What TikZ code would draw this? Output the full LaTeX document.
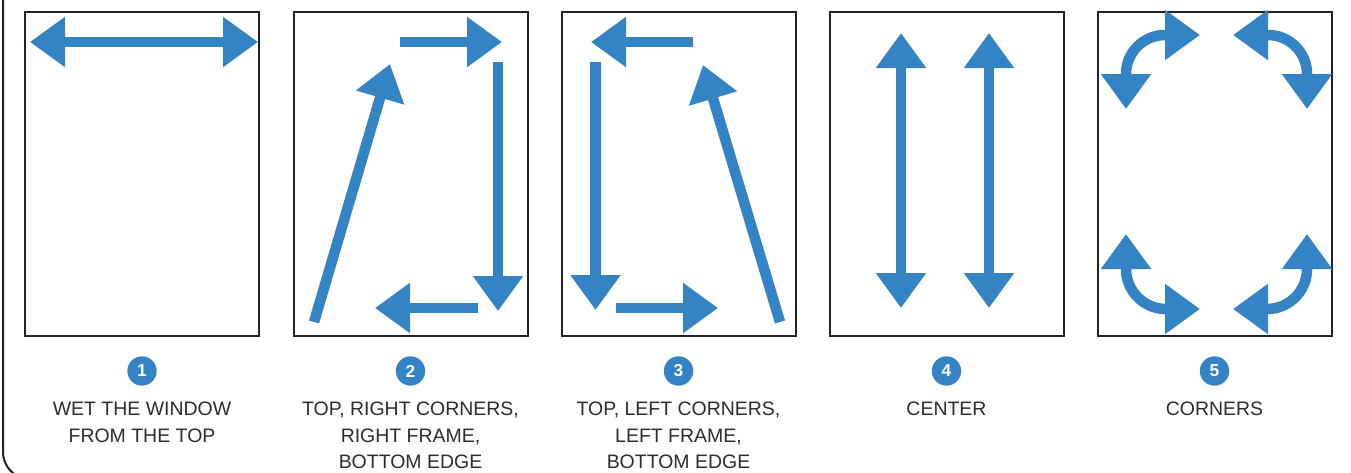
\documentclass[tikz,border=0pt]{standalone}
\usepackage{fontspec}
\setmainfont{Liberation Sans}
\usetikzlibrary{arrows.meta}
\definecolor{ablue}{RGB}{52,131,197}
\definecolor{frm}{RGB}{34,34,34}
\definecolor{txt}{RGB}{45,45,45}
\begin{document}
\begin{tikzpicture}[x=0.75pt,y=0.75pt,
  >={Triangle[length=26.25pt,width=36pt]},
  arr/.style={draw=ablue,line width=7.9pt},
  panel/.style={draw=frm,line width=1.5pt,minimum width=175.5pt,minimum height=243pt,inner sep=0pt},
  num/.style={circle,fill=ablue,text=white,minimum size=22pt,inner sep=0pt,font=\fontsize{13}{13}\selectfont\bfseries},
  lbl/.style={anchor=north,inner sep=0pt,align=center,text=txt,font=\fontsize{14.6}{19.9}\selectfont}]
\useasboundingbox (0,0) rectangle (1351,-472);
\clip (0,0) rectangle (1351,-472);
% outer frame
\draw[frm,line width=1.5pt] (3,10) -- (3,-452) arc[start angle=180,end angle=250,radius=27];
% panels
\node[panel] (p1) at (142,-174) {};
\node[panel] (p2) at (410.5,-174) {};
\node[panel] (p3) at (678.5,-174) {};
\node[panel] (p4) at (946.5,-174) {};
\node[panel] (p5) at (1214.5,-174) {};
% panel 1
\draw[arr,<->] (30,-42) -- (258,-42);
% panel 2
\draw[arr,->] (400,-42) -- (502,-42);
\draw[arr,->] (498,-62) -- (498,-311);
\draw[arr,->] (478,-308) -- (375,-308);
\draw[arr,->] (314,-322) -- (390,-64);
% panel 3
\draw[arr,->] (693,-42) -- (591,-42);
\draw[arr,->] (595.5,-62) -- (595.5,-310);
\draw[arr,->] (616,-308) -- (718,-308);
\draw[arr,->] (780,-322) -- (703,-65);
% panel 4
\draw[arr,<->] (901,-33) -- (901,-308);
\draw[arr,<->] (989,-33) -- (989,-308);
% panel 5
\draw[arr,<->] (1126,-109) -- (1126,-74) arc[start angle=180,end angle=90,radius=39] -- (1200,-35);
\draw[arr,<->] (1307,-109) -- (1307,-74) arc[start angle=0,end angle=90,radius=39] -- (1233,-35);
\draw[arr,<->] (1126,-234) -- (1126,-269) arc[start angle=180,end angle=270,radius=40] -- (1200,-309);
\draw[arr,<->] (1307,-234) -- (1307,-269) arc[start angle=0,end angle=-90,radius=40] -- (1233,-309);
% numbers
\node[num] (n1) at (142,-371) {1};
\node[num] (n2) at (410.5,-371) {2};
\node[num] (n3) at (678.5,-371) {3};
\node[num] (n4) at (946.5,-371) {4};
\node[num] (n5) at (1214.5,-371) {5};
% labels
\node[lbl] (l1) at (142,-402) {WET THE WINDOW\\FROM THE TOP};
\node[lbl] (l2) at (410.5,-402) {TOP, RIGHT CORNERS,\\RIGHT FRAME,\\BOTTOM EDGE};
\node[lbl] (l3) at (678.5,-402) {TOP, LEFT CORNERS,\\LEFT FRAME,\\BOTTOM EDGE};
\node[lbl] (l4) at (946.5,-402) {CENTER};
\node[lbl] (l5) at (1214.5,-402) {CORNERS};
\end{tikzpicture}
\end{document}
